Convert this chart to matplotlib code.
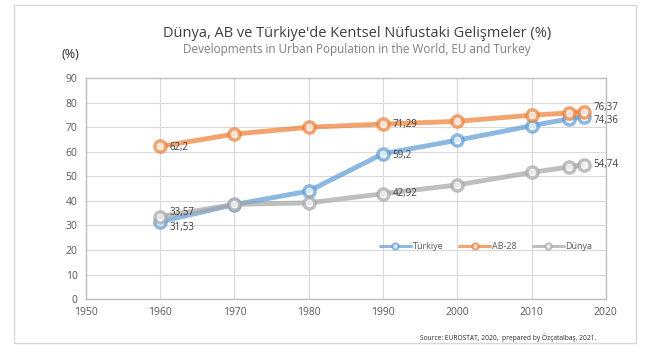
import matplotlib.pyplot as plt
from matplotlib.patches import Rectangle

plt.rcParams['font.family'] = ['Open Sans', 'DejaVu Sans']

years = [1960, 1970, 1980, 1990, 2000, 2010, 2015, 2017]
turkiye = [31.53, 38.5, 44.0, 59.2, 64.7, 70.6, 73.4, 74.36]
ab28 = [62.2, 67.2, 70.0, 71.29, 72.4, 74.9, 75.8, 76.37]
dunya = [33.57, 38.6, 39.2, 42.92, 46.5, 51.6, 53.8, 54.74]

series_names = ['Türkiye', 'AB-28', 'Dünya']
colors = ['#5B9BD5', '#ED7D31', '#A5A5A5']

# which points get a value label: (series index, point index, dy in pt)
labels = [(0, 0, -4), (2, 0, 3), (1, 0, -1), (0, 3, -1), (1, 3, 0),
          (2, 3, 0), (1, 7, 3), (0, 7, -3), (2, 7, 0)]

fig = plt.figure(figsize=(6.5, 3.6), dpi=100)
fig.patches.append(Rectangle((0.022, 0.047), 0.956, 0.94, transform=fig.transFigure,
                             fill=False, edgecolor='#d9d9d9', lw=1))
ax = fig.add_axes([0.132, 0.169, 0.8, 0.614])

all_series = [turkiye, ab28, dunya]
for vals, name, c in zip(all_series, series_names, colors):
    ax.plot(years, vals, color=c, lw=3.5, alpha=0.7, marker='o', ms=8,
            mfc='white', mec=c, mew=2.5, label=name, solid_capstyle='round')

for si, pi, dy in labels:
    v = all_series[si][pi]
    txt = ('%g' % v).replace('.', ',')
    ax.annotate(txt, (years[pi], v), xytext=(7, dy), textcoords='offset points',
                ha='left', va='center', fontsize=7, color='#404040')

ax.set_xlim(1950, 2020)
ax.set_ylim(0, 90)
ax.set_xticks(range(1950, 2021, 10))
ax.set_yticks(range(0, 91, 10))
ax.grid(True, color='#d9d9d9', lw=0.8)
ax.set_axisbelow(True)
for s in ax.spines.values():
    s.set_color('#bfbfbf')
    s.set_linewidth(1)
ax.tick_params(length=0, labelsize=7.5, colors='#595959', pad=6)

leg = ax.legend(loc='lower right', bbox_to_anchor=(0.99, 0.18), ncol=3, frameon=False,
                fontsize=6.5, handlelength=3.4, columnspacing=1.8, handletextpad=0.2,
                markerscale=0.55)
for t in leg.get_texts():
    t.set_color('#595959')
for h in leg.legend_handles:
    h.set_linewidth(2.2)
    h.set_markeredgewidth(1.5)

fig.text(0.549, 0.907, "Dünya, AB ve Türkiye'de Kentsel Nüfustaki Gelişmeler (%)",
         ha='center', va='center', fontsize=10.5, color='#404040')
fig.text(0.549, 0.862, 'Developments in Urban Population in the World, EU and Turkey',
         ha='center', va='center', fontsize=8.5, color='#7f7f7f')
fig.text(0.108, 0.85, '(%)', ha='center', va='center', fontsize=9, color='#262626')
fig.text(0.917, 0.063, 'Source: EUROSTAT, 2020,  prepared by Özçatalbaş, 2021.',
         ha='right', va='center', fontsize=4.8, color='#262626')

fig.savefig('out.png', dpi=100)
